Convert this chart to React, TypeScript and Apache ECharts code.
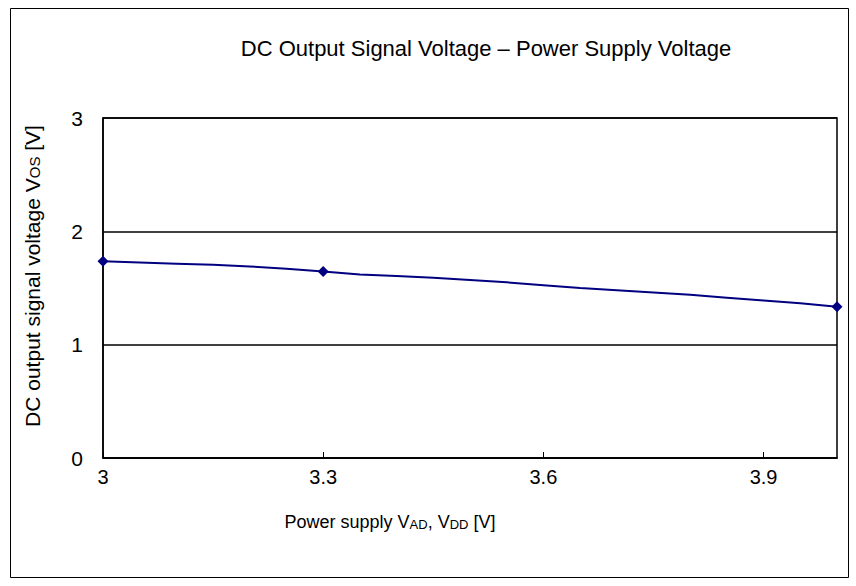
import React, { useEffect, useRef } from "react";
import * as echarts from "echarts";

const supplyVoltage = [3.0, 3.05, 3.1, 3.15, 3.2, 3.25, 3.3, 3.35, 3.4, 3.45, 3.5, 3.55, 3.6, 3.65, 3.7, 3.75, 3.8, 3.85, 3.9, 3.95, 4.0];
const outputVoltage = [1.735, 1.725, 1.715, 1.705, 1.69, 1.67, 1.645, 1.62, 1.605, 1.59, 1.57, 1.55, 1.525, 1.5, 1.48, 1.46, 1.44, 1.415, 1.39, 1.365, 1.335];
const markerVoltages = [3.0, 3.3, 4.0];

const titleText = "DC Output Signal Voltage – Power Supply Voltage";
const FONT = "'Liberation Sans Narrow', 'Liberation Sans', Arial, sans-serif";
const TITLE_FONT = "'Liberation Sans', Arial, sans-serif";

export default function App() {
  const ref = useRef<HTMLDivElement>(null);
  useEffect(() => {
    if (!ref.current) return;
    const chart = echarts.init(ref.current, undefined, { renderer: "svg" });
    const data = supplyVoltage.map((x, i) => {
      const isMarker = markerVoltages.some((m) => Math.abs(m - x) < 1e-9);
      return {
        value: [x, outputVoltage[i]],
        symbol: isMarker ? "diamond" : "none",
        symbolSize: isMarker ? 11 : 0,
      };
    });
    chart.setOption({
      animation: false,
      backgroundColor: "#ffffff",
      title: {
        text: titleText,
        left: 481,
        textAlign: "center",
        top: 32,
        textStyle: { fontFamily: TITLE_FONT, fontWeight: "normal", fontSize: 22, color: "#000" },
      },
      graphic: [
        {
          type: "rect",
          shape: { x: 10.5, y: 8.5, width: 838, height: 569 },
          style: { fill: "none", stroke: "#000", lineWidth: 1 },
          silent: true,
        },
      ],
      grid: {
        left: 103,
        right: 19,
        top: 118,
        bottom: 128,
        show: true,
        borderColor: "#000",
        borderWidth: 1.5,
        backgroundColor: "transparent",
      },
      xAxis: {
        type: "value",
        min: 3,
        max: 4,
        interval: 0.3,
        name: "Power supply V{s|AD}, V{s|DD} [V]",
        nameLocation: "middle",
        nameGap: 54,
        nameTextStyle: {
          fontFamily: TITLE_FONT,
          fontSize: 18,
          color: "#000",
          padding: [0, 160, 0, 0],
          rich: { s: { fontFamily: TITLE_FONT, fontSize: 13, color: "#000", padding: [6, 0, 0, 0] } },
        },
        axisLine: { show: true, lineStyle: { color: "#000", width: 1.5 } },
        axisTick: { show: true, inside: true, length: 6, lineStyle: { color: "#000" } },
        splitLine: { show: false },
        axisLabel: {
          showMaxLabel: false,
          margin: 9,
          fontFamily: FONT,
          fontSize: 20,
          color: "#000",
          formatter: (v: number) => String(Math.round(v * 10) / 10),
        },
      },
      yAxis: {
        type: "value",
        min: 0,
        max: 3,
        interval: 1,
        name: "DC output signal voltage V{s|OS} [V]",
        nameLocation: "middle",
        nameGap: 60,
        nameRotate: 90,
        nameTextStyle: {
          fontFamily: TITLE_FONT,
          fontSize: 21,
          color: "#000",
          padding: [0, 0, 0, 24],
          rich: { s: { fontFamily: TITLE_FONT, fontSize: 15, color: "#000", padding: [4, 0, 0, 0] } },
        },
        axisLine: { show: true, lineStyle: { color: "#000", width: 1.5 } },
        axisTick: { show: false },
        splitLine: { show: true, lineStyle: { color: "#000", width: 1.5 } },
        axisLabel: {
          margin: 20,
          fontFamily: FONT,
          fontSize: 21,
          color: "#000",
        },
      },
      series: [
        {
          type: "line",
          data,
          clip: false,
          smooth: false,
          lineStyle: { color: "#000080", width: 2 },
          itemStyle: { color: "#000080" },
        },
      ],
    });
    return () => chart.dispose();
  }, []);
  return <div ref={ref} style={{ position: "fixed", left: 0, top: 0, width: 856, height: 586 }} />;
}
